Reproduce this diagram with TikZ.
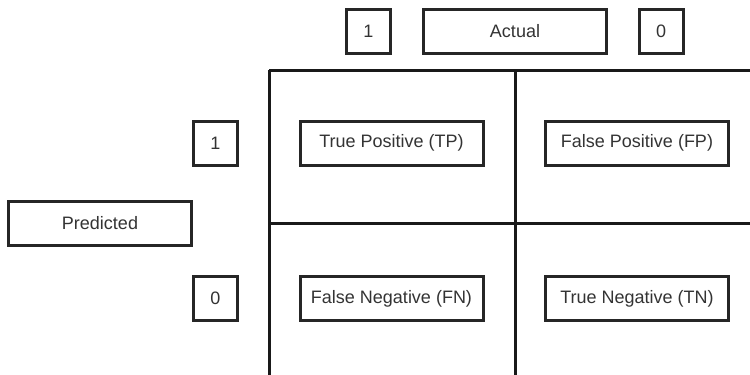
\documentclass[tikz,border=0pt]{standalone}
\usepackage{fontspec}
\setmainfont{Liberation Sans}
\begin{document}
\begin{tikzpicture}[x=1pt,y=-1pt,
  lbl/.style={draw=black!85, line width=3pt, inner sep=0pt, text=black!80,
    font=\fontsize{18}{20}\selectfont, minimum height=44pt},
  small/.style={lbl, minimum width=44pt},
  wide/.style={lbl, minimum width=183pt},
  grid/.style={draw=black!90, line width=3pt}]
\useasboundingbox (0,0) rectangle (750,375);
\begin{scope}
\clip (0,0) rectangle (750,375);
\draw[grid] (269,70) -- (752,70);
\draw[grid] (269,70) -- (269,378);
\draw[grid] (515,70) -- (515,378);
\draw[grid] (269,223) -- (752,223);
\end{scope}
\node[small] (a1) at (368.5,31) {1};
\node[wide] (act) at (515,31) {Actual};
\node[small] (a0) at (661,31) {0};
\node[small] (p1) at (215.5,143) {1};
\node[wide] (pred) at (100,223) {Predicted};
\node[small] (p0) at (215.5,298) {0};
\node[wide] (tp) at (391.5,143) {True Positive (TP)};
\node[wide] (fp) at (637,143) {False Positive (FP)};
\node[wide] (fn) at (391.5,298.5) {False Negative (FN)};
\node[wide] (tn) at (637,298.5) {True Negative (TN)};
\end{tikzpicture}
\end{document}
